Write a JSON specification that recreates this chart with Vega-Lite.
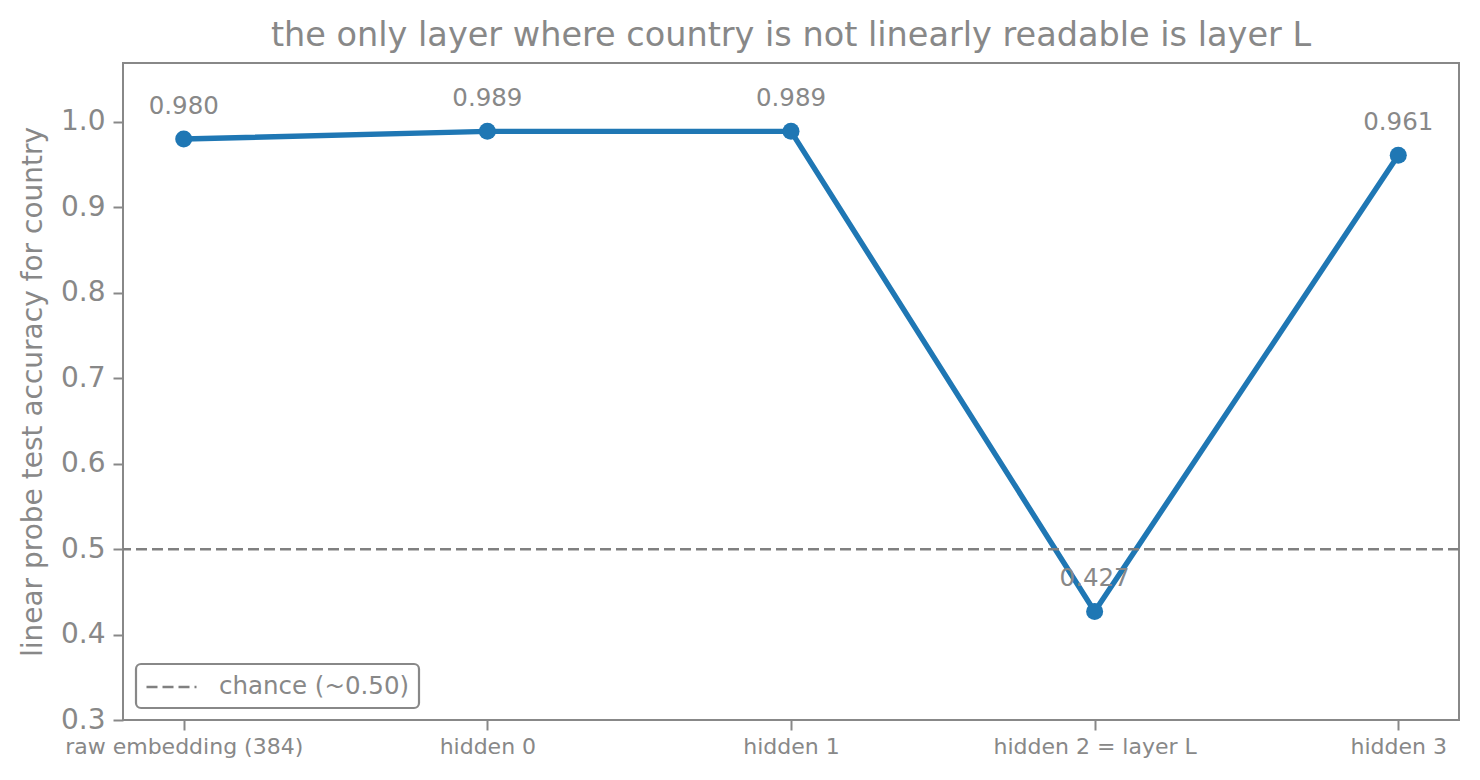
{
  "$schema": "https://vega.github.io/schema/vega-lite/v6.json",
  "width": 1336,
  "height": 657,
  "autosize": {"type": "none"},
  "padding": {"left": 123, "top": 63, "right": 21, "bottom": 60},
  "background": "white",
  "title": {
    "text": "the only layer where country is not linearly readable is layer L",
    "font": "DejaVu Sans",
    "fontSize": 33.5,
    "fontWeight": "normal",
    "color": "#888888",
    "offset": 10
  },
  "config": {
    "font": "DejaVu Sans",
    "view": {"stroke": "#888888", "strokeWidth": 2},
    "axis": {
      "domain": false,
      "grid": false,
      "tickColor": "#888888",
      "tickWidth": 2,
      "tickSize": 10,
      "labelColor": "#888888",
      "labelFont": "DejaVu Sans",
      "labelLimit": 0,
      "titleColor": "#888888",
      "titleFont": "DejaVu Sans",
      "titleFontWeight": "normal"
    }
  },
  "datasets": {
    "probe": [
      {"layer": "raw embedding (384)", "acc": 0.980},
      {"layer": "hidden 0", "acc": 0.989},
      {"layer": "hidden 1", "acc": 0.989},
      {"layer": "hidden 2 = layer L", "acc": 0.427},
      {"layer": "hidden 3", "acc": 0.961}
    ],
    "chance": [{"y": 0.5, "label": "chance (~0.50)"}]
  },
  "layer": [
    {
      "data": {"name": "probe"},
      "mark": {"type": "line", "color": "#1f77b4", "strokeWidth": 5.4},
      "encoding": {
        "x": {
          "field": "layer",
          "type": "ordinal",
          "sort": null,
          "scale": {"type": "point", "padding": 0.2},
          "axis": {"title": null, "labelAngle": 0, "labelFontSize": 22, "labelPadding": 6}
        },
        "y": {
          "field": "acc",
          "type": "quantitative",
          "scale": {"domain": [0.3, 1.069], "nice": false, "zero": false},
          "axis": {
            "title": "linear probe test accuracy for country",
            "titleFontSize": 28,
            "titlePadding": 13,
            "labelFontSize": 28,
            "labelPadding": 8,
            "values": [0.3, 0.4, 0.5, 0.6, 0.7, 0.8, 0.9, 1.0],
            "format": ".1f"
          }
        }
      }
    },
    {
      "data": {"name": "probe"},
      "mark": {"type": "point", "filled": true, "color": "#1f77b4", "opacity": 1, "size": 290},
      "encoding": {
        "x": {"field": "layer", "type": "ordinal", "sort": null},
        "y": {"field": "acc", "type": "quantitative"}
      }
    },
    {
      "data": {"name": "probe"},
      "mark": {"type": "text", "color": "#888888", "fontSize": 24.5, "baseline": "alphabetic", "dy": -25},
      "encoding": {
        "x": {"field": "layer", "type": "ordinal", "sort": null},
        "y": {"field": "acc", "type": "quantitative"},
        "text": {"field": "acc", "type": "quantitative", "format": ".3f"}
      }
    },
    {
      "data": {"name": "chance"},
      "mark": {"type": "rule", "color": "#808080", "strokeWidth": 2.5},
      "encoding": {
        "y": {"field": "y", "type": "quantitative"},
        "strokeDash": {
          "field": "label",
          "type": "nominal",
          "scale": {"range": [[11, 5]]},
          "legend": {
            "title": null,
            "orient": "none",
            "legendX": 13,
            "legendY": 601,
            "strokeColor": "#888888",
            "cornerRadius": 5,
            "padding": 9,
            "symbolType": "M-1,0H3",
            "symbolSize": 625,
            "symbolStrokeWidth": 2.5,
            "symbolStrokeColor": "#808080",
            "labelFontSize": 24.5,
            "labelColor": "#888888",
            "labelLimit": 0,
            "labelOffset": 46,
            "fillColor": "white",
            "encode": {"legend": {"update": {"strokeWidth": {"value": 2.2}}}}
          }
        }
      }
    }
  ]
}
